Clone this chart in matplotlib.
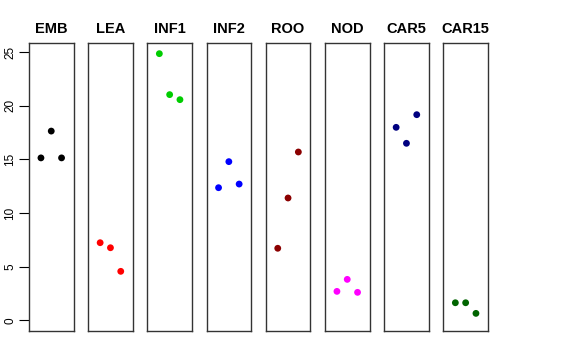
import matplotlib
matplotlib.use("Agg")
import matplotlib.pyplot as plt

plt.rcParams["font.family"] = ["Liberation Sans", "DejaVu Sans"]

groups = ["EMB", "LEA", "INF1", "INF2", "ROO", "NOD", "CAR5", "CAR15"]
colors = ["#000000", "#FF0000", "#00CD00", "#0000FF", "#8B0000", "#FF00FF", "#000080", "#006400"]
values = {
    "EMB":   [15.15, 17.65, 15.15],
    "LEA":   [7.24, 6.77, 4.57],
    "INF1":  [24.87, 21.05, 20.58],
    "INF2":  [12.37, 14.80, 12.71],
    "ROO":   [6.72, 11.41, 15.70],
    "NOD":   [2.70, 3.82, 2.61],
    "CAR5":  [18.00, 16.51, 19.18],
    "CAR15": [1.64, 1.64, 0.65],
}
replicates = [1, 2, 3]
yticks = [0, 5, 10, 15, 20, 25]

W, H = 576, 360
fig = plt.figure(figsize=(W / 100, H / 100), dpi=100)

ymax = max(max(v) for v in values.values())
pad = 0.04 * ymax
left0, step, pw = 29, 59.2, 44.5
top, bottom = 43, 331

for i, (g, c) in enumerate(zip(groups, colors)):
    x0 = left0 + i * step
    ax = fig.add_axes([x0 / W, 1 - bottom / H, pw / W, (bottom - top) / H])
    ax.scatter(replicates, values[g], s=24, color=c, edgecolors="none", zorder=3)
    ax.set_xlim(-0.16, 4.16)
    ax.set_ylim(-pad, ymax + pad)
    ax.set_xticks([])
    for sp in ax.spines.values():
        sp.set_color("#333333")
        sp.set_linewidth(1.0)
    ax.set_title(g, fontsize=10.5, fontweight="bold", pad=7)
    if i == 0:
        ax.set_yticks(yticks)
        ax.set_yticklabels([str(t) for t in yticks], rotation=90, va="center", fontsize=8.5)
        ax.tick_params(axis="y", length=7, width=0.8, pad=2)
    else:
        ax.set_yticks([])

fig.savefig("out.png", dpi=100)
